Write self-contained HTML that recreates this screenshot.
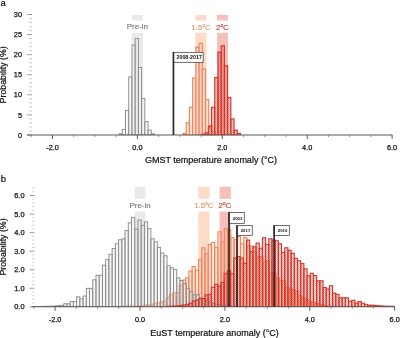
<!DOCTYPE html>
<html><head><meta charset="utf-8"><title>Figure</title>
<style>html,body{margin:0;padding:0;background:#fff;}svg{display:block}</style></head>
<body><svg width="400" height="338" viewBox="0 0 400 338" font-family='"Liberation Sans", sans-serif'><filter id="soft" x="0" y="0" width="100%" height="100%" filterUnits="userSpaceOnUse"><feGaussianBlur stdDeviation="0.35"/></filter><g filter="url(#soft)"><rect width="400" height="338" fill="#fff"/><defs><pattern id="hr" patternUnits="userSpaceOnUse" width="2" height="2"><rect width="1" height="1" fill="#d4352a" fill-opacity="0.32"/><rect x="1" y="1" width="1" height="1" fill="#d4352a" fill-opacity="0.32"/></pattern><pattern id="ho" patternUnits="userSpaceOnUse" width="2" height="2"><rect width="1" height="1" fill="#f0845c" fill-opacity="0.22"/><rect x="1" y="1" width="1" height="1" fill="#f0845c" fill-opacity="0.22"/></pattern><pattern id="hg" patternUnits="userSpaceOnUse" width="2" height="2"><rect width="1" height="1" fill="#808080" fill-opacity="0.13"/><rect x="1" y="1" width="1" height="1" fill="#808080" fill-opacity="0.13"/></pattern><clipPath id="ca"><rect x="0" y="0" width="400" height="135.3"/></clipPath><clipPath id="cb"><rect x="0" y="170" width="394.5" height="137.1"/></clipPath></defs>
<rect x="131.90" y="14.9" width="11" height="5.60" fill="#e9e9e9"/>
<rect x="131.90" y="32.8" width="11" height="102.20" fill="#e9e9e9"/>
<rect x="195.30" y="14.9" width="11.2" height="5.60" fill="#fcdcc8"/>
<rect x="195.30" y="32.8" width="11.2" height="102.20" fill="#fcdcc8"/>
<rect x="217.00" y="14.9" width="11" height="5.60" fill="#f7bfba"/>
<rect x="217.00" y="32.8" width="11" height="102.20" fill="#f7bfba"/>
<line x1="27.1" x2="32" y1="135.00" y2="135.00" stroke="#8f8f8f" stroke-width="0.9"/>
<line x1="29.2" x2="32" y1="130.98" y2="130.98" stroke="#bdbdbd" stroke-width="0.8"/>
<line x1="29.2" x2="32" y1="126.97" y2="126.97" stroke="#bdbdbd" stroke-width="0.8"/>
<line x1="29.2" x2="32" y1="122.95" y2="122.95" stroke="#bdbdbd" stroke-width="0.8"/>
<line x1="29.2" x2="32" y1="118.94" y2="118.94" stroke="#bdbdbd" stroke-width="0.8"/>
<line x1="27.1" x2="32" y1="114.92" y2="114.92" stroke="#8f8f8f" stroke-width="0.9"/>
<line x1="29.2" x2="32" y1="110.90" y2="110.90" stroke="#bdbdbd" stroke-width="0.8"/>
<line x1="29.2" x2="32" y1="106.89" y2="106.89" stroke="#bdbdbd" stroke-width="0.8"/>
<line x1="29.2" x2="32" y1="102.87" y2="102.87" stroke="#bdbdbd" stroke-width="0.8"/>
<line x1="29.2" x2="32" y1="98.86" y2="98.86" stroke="#bdbdbd" stroke-width="0.8"/>
<line x1="27.1" x2="32" y1="94.84" y2="94.84" stroke="#8f8f8f" stroke-width="0.9"/>
<line x1="29.2" x2="32" y1="90.82" y2="90.82" stroke="#bdbdbd" stroke-width="0.8"/>
<line x1="29.2" x2="32" y1="86.81" y2="86.81" stroke="#bdbdbd" stroke-width="0.8"/>
<line x1="29.2" x2="32" y1="82.79" y2="82.79" stroke="#bdbdbd" stroke-width="0.8"/>
<line x1="29.2" x2="32" y1="78.78" y2="78.78" stroke="#bdbdbd" stroke-width="0.8"/>
<line x1="27.1" x2="32" y1="74.76" y2="74.76" stroke="#8f8f8f" stroke-width="0.9"/>
<line x1="29.2" x2="32" y1="70.74" y2="70.74" stroke="#bdbdbd" stroke-width="0.8"/>
<line x1="29.2" x2="32" y1="66.73" y2="66.73" stroke="#bdbdbd" stroke-width="0.8"/>
<line x1="29.2" x2="32" y1="62.71" y2="62.71" stroke="#bdbdbd" stroke-width="0.8"/>
<line x1="29.2" x2="32" y1="58.70" y2="58.70" stroke="#bdbdbd" stroke-width="0.8"/>
<line x1="27.1" x2="32" y1="54.68" y2="54.68" stroke="#8f8f8f" stroke-width="0.9"/>
<line x1="29.2" x2="32" y1="50.66" y2="50.66" stroke="#bdbdbd" stroke-width="0.8"/>
<line x1="29.2" x2="32" y1="46.65" y2="46.65" stroke="#bdbdbd" stroke-width="0.8"/>
<line x1="29.2" x2="32" y1="42.63" y2="42.63" stroke="#bdbdbd" stroke-width="0.8"/>
<line x1="29.2" x2="32" y1="38.62" y2="38.62" stroke="#bdbdbd" stroke-width="0.8"/>
<line x1="27.1" x2="32" y1="34.60" y2="34.60" stroke="#8f8f8f" stroke-width="0.9"/>
<line x1="29.2" x2="32" y1="30.58" y2="30.58" stroke="#bdbdbd" stroke-width="0.8"/>
<line x1="29.2" x2="32" y1="26.57" y2="26.57" stroke="#bdbdbd" stroke-width="0.8"/>
<line x1="29.2" x2="32" y1="22.55" y2="22.55" stroke="#bdbdbd" stroke-width="0.8"/>
<line x1="29.2" x2="32" y1="18.54" y2="18.54" stroke="#bdbdbd" stroke-width="0.8"/>
<line x1="27.1" x2="32" y1="14.52" y2="14.52" stroke="#8f8f8f" stroke-width="0.9"/>
<g clip-path="url(#ca)" fill="rgba(255,255,255,0.5)" stroke="#8e8e8e" stroke-width="0.95"><rect x="119.08" y="133.80" width="3.22" height="1.20"/><rect x="122.30" y="129.38" width="3.22" height="5.62"/><rect x="125.52" y="110.50" width="3.22" height="24.50"/><rect x="128.74" y="76.97" width="3.22" height="58.03"/><rect x="131.96" y="45.04" width="3.22" height="89.96"/><rect x="135.18" y="38.62" width="3.22" height="96.38"/><rect x="138.40" y="67.53" width="3.22" height="67.47"/><rect x="141.62" y="98.45" width="3.22" height="36.55"/><rect x="144.84" y="121.51" width="3.22" height="13.49"/><rect x="148.06" y="130.02" width="3.22" height="4.98"/><rect x="151.28" y="133.80" width="3.22" height="1.20"/></g>
<g clip-path="url(#ca)" fill="url(#hg)" stroke="none"><rect x="119.08" y="133.80" width="3.22" height="1.20"/><rect x="122.30" y="129.38" width="3.22" height="5.62"/><rect x="125.52" y="110.50" width="3.22" height="24.50"/><rect x="128.74" y="76.97" width="3.22" height="58.03"/><rect x="131.96" y="45.04" width="3.22" height="89.96"/><rect x="135.18" y="38.62" width="3.22" height="96.38"/><rect x="138.40" y="67.53" width="3.22" height="67.47"/><rect x="141.62" y="98.45" width="3.22" height="36.55"/><rect x="144.84" y="121.51" width="3.22" height="13.49"/><rect x="148.06" y="130.02" width="3.22" height="4.98"/><rect x="151.28" y="133.80" width="3.22" height="1.20"/></g>
<g clip-path="url(#ca)" fill="rgba(255,232,218,0.7)" stroke="#f0845c" stroke-width="1.15"><rect x="182.98" y="133.39" width="3.22" height="1.61"/><rect x="186.20" y="122.75" width="3.22" height="12.25"/><rect x="189.42" y="107.29" width="3.22" height="27.71"/><rect x="192.64" y="77.97" width="3.22" height="57.03"/><rect x="195.86" y="47.25" width="3.22" height="87.75"/><rect x="199.08" y="43.44" width="3.22" height="91.56"/><rect x="202.30" y="69.14" width="3.22" height="65.86"/><rect x="205.52" y="99.66" width="3.22" height="35.34"/><rect x="208.74" y="125.36" width="3.22" height="9.64"/><rect x="211.96" y="131.51" width="3.22" height="3.49"/><rect x="215.18" y="134.20" width="3.22" height="0.80"/></g>
<g clip-path="url(#ca)" fill="url(#ho)" stroke="none"><rect x="182.98" y="133.39" width="3.22" height="1.61"/><rect x="186.20" y="122.75" width="3.22" height="12.25"/><rect x="189.42" y="107.29" width="3.22" height="27.71"/><rect x="192.64" y="77.97" width="3.22" height="57.03"/><rect x="195.86" y="47.25" width="3.22" height="87.75"/><rect x="199.08" y="43.44" width="3.22" height="91.56"/><rect x="202.30" y="69.14" width="3.22" height="65.86"/><rect x="205.52" y="99.66" width="3.22" height="35.34"/><rect x="208.74" y="125.36" width="3.22" height="9.64"/><rect x="211.96" y="131.51" width="3.22" height="3.49"/><rect x="215.18" y="134.20" width="3.22" height="0.80"/></g>
<g clip-path="url(#ca)" fill="rgba(240,140,125,0.35)" stroke="#d4352a" stroke-width="1.15"><rect x="201.86" y="134.20" width="3.22" height="0.80"/><rect x="205.08" y="132.79" width="3.22" height="2.21"/><rect x="208.30" y="126.57" width="3.22" height="8.43"/><rect x="211.52" y="107.29" width="3.22" height="27.71"/><rect x="214.74" y="77.57" width="3.22" height="57.43"/><rect x="217.96" y="52.27" width="3.22" height="82.73"/><rect x="221.18" y="45.84" width="3.22" height="89.16"/><rect x="224.40" y="65.92" width="3.22" height="69.08"/><rect x="227.62" y="97.65" width="3.22" height="37.35"/><rect x="230.84" y="118.94" width="3.22" height="16.06"/><rect x="234.06" y="130.18" width="3.22" height="4.82"/><rect x="237.28" y="133.39" width="3.22" height="1.61"/></g>
<g clip-path="url(#ca)" fill="url(#hr)" stroke="none"><rect x="201.86" y="134.20" width="3.22" height="0.80"/><rect x="205.08" y="132.79" width="3.22" height="2.21"/><rect x="208.30" y="126.57" width="3.22" height="8.43"/><rect x="211.52" y="107.29" width="3.22" height="27.71"/><rect x="214.74" y="77.57" width="3.22" height="57.43"/><rect x="217.96" y="52.27" width="3.22" height="82.73"/><rect x="221.18" y="45.84" width="3.22" height="89.16"/><rect x="224.40" y="65.92" width="3.22" height="69.08"/><rect x="227.62" y="97.65" width="3.22" height="37.35"/><rect x="230.84" y="118.94" width="3.22" height="16.06"/><rect x="234.06" y="130.18" width="3.22" height="4.82"/><rect x="237.28" y="133.39" width="3.22" height="1.61"/></g>
<line x1="27.1" x2="392.3" y1="135.0" y2="135.0" stroke="#5a5a5a" stroke-width="1.1"/>
<line x1="31.28" x2="31.28" y1="135.0" y2="137.0" stroke="#6a6a6a" stroke-width="0.7"/>
<line x1="52.50" x2="52.50" y1="135.0" y2="139.0" stroke="#4a4a4a" stroke-width="0.9"/>
<line x1="73.72" x2="73.72" y1="135.0" y2="137.0" stroke="#6a6a6a" stroke-width="0.7"/>
<line x1="94.95" x2="94.95" y1="135.0" y2="137.0" stroke="#6a6a6a" stroke-width="0.7"/>
<line x1="116.18" x2="116.18" y1="135.0" y2="137.0" stroke="#6a6a6a" stroke-width="0.7"/>
<line x1="137.40" x2="137.40" y1="135.0" y2="139.0" stroke="#4a4a4a" stroke-width="0.9"/>
<line x1="158.62" x2="158.62" y1="135.0" y2="137.0" stroke="#6a6a6a" stroke-width="0.7"/>
<line x1="179.85" x2="179.85" y1="135.0" y2="137.0" stroke="#6a6a6a" stroke-width="0.7"/>
<line x1="201.08" x2="201.08" y1="135.0" y2="137.0" stroke="#6a6a6a" stroke-width="0.7"/>
<line x1="222.30" x2="222.30" y1="135.0" y2="139.0" stroke="#4a4a4a" stroke-width="0.9"/>
<line x1="243.53" x2="243.53" y1="135.0" y2="137.0" stroke="#6a6a6a" stroke-width="0.7"/>
<line x1="264.75" x2="264.75" y1="135.0" y2="137.0" stroke="#6a6a6a" stroke-width="0.7"/>
<line x1="285.98" x2="285.98" y1="135.0" y2="137.0" stroke="#6a6a6a" stroke-width="0.7"/>
<line x1="307.20" x2="307.20" y1="135.0" y2="139.0" stroke="#4a4a4a" stroke-width="0.9"/>
<line x1="328.43" x2="328.43" y1="135.0" y2="137.0" stroke="#6a6a6a" stroke-width="0.7"/>
<line x1="349.65" x2="349.65" y1="135.0" y2="137.0" stroke="#6a6a6a" stroke-width="0.7"/>
<line x1="370.88" x2="370.88" y1="135.0" y2="137.0" stroke="#6a6a6a" stroke-width="0.7"/>
<line x1="392.10" x2="392.10" y1="135.0" y2="139.0" stroke="#4a4a4a" stroke-width="0.9"/>
<rect x="173.45" y="52.30" width="29.70" height="10.00" fill="#fff" stroke="#333" stroke-width="0.7"/>
<line x1="173.45" x2="173.45" y1="51.90" y2="135.00" stroke="#2a2a2a" stroke-width="1.7"/>
<rect x="134.70" y="186.7" width="10.8" height="12.10" fill="#e9e9e9"/>
<rect x="134.70" y="211.6" width="10.8" height="95.20" fill="#e9e9e9"/>
<rect x="198.30" y="186.7" width="11.2" height="12.10" fill="#fcdcc8"/>
<rect x="198.30" y="211.6" width="11.2" height="95.20" fill="#fcdcc8"/>
<rect x="219.60" y="186.7" width="11.2" height="12.10" fill="#f7bfba"/>
<rect x="219.60" y="211.6" width="11.2" height="95.20" fill="#f7bfba"/>
<line x1="29.7" x2="34.4" y1="306.80" y2="306.80" stroke="#8f8f8f" stroke-width="0.9"/>
<line x1="32.3" x2="34.4" y1="303.09" y2="303.09" stroke="#bdbdbd" stroke-width="0.8"/>
<line x1="32.3" x2="34.4" y1="299.38" y2="299.38" stroke="#bdbdbd" stroke-width="0.8"/>
<line x1="32.3" x2="34.4" y1="295.67" y2="295.67" stroke="#bdbdbd" stroke-width="0.8"/>
<line x1="32.3" x2="34.4" y1="291.96" y2="291.96" stroke="#bdbdbd" stroke-width="0.8"/>
<line x1="29.7" x2="34.4" y1="288.25" y2="288.25" stroke="#8f8f8f" stroke-width="0.9"/>
<line x1="32.3" x2="34.4" y1="284.54" y2="284.54" stroke="#bdbdbd" stroke-width="0.8"/>
<line x1="32.3" x2="34.4" y1="280.83" y2="280.83" stroke="#bdbdbd" stroke-width="0.8"/>
<line x1="32.3" x2="34.4" y1="277.12" y2="277.12" stroke="#bdbdbd" stroke-width="0.8"/>
<line x1="32.3" x2="34.4" y1="273.41" y2="273.41" stroke="#bdbdbd" stroke-width="0.8"/>
<line x1="29.7" x2="34.4" y1="269.70" y2="269.70" stroke="#8f8f8f" stroke-width="0.9"/>
<line x1="32.3" x2="34.4" y1="265.99" y2="265.99" stroke="#bdbdbd" stroke-width="0.8"/>
<line x1="32.3" x2="34.4" y1="262.28" y2="262.28" stroke="#bdbdbd" stroke-width="0.8"/>
<line x1="32.3" x2="34.4" y1="258.57" y2="258.57" stroke="#bdbdbd" stroke-width="0.8"/>
<line x1="32.3" x2="34.4" y1="254.86" y2="254.86" stroke="#bdbdbd" stroke-width="0.8"/>
<line x1="29.7" x2="34.4" y1="251.15" y2="251.15" stroke="#8f8f8f" stroke-width="0.9"/>
<line x1="32.3" x2="34.4" y1="247.44" y2="247.44" stroke="#bdbdbd" stroke-width="0.8"/>
<line x1="32.3" x2="34.4" y1="243.73" y2="243.73" stroke="#bdbdbd" stroke-width="0.8"/>
<line x1="32.3" x2="34.4" y1="240.02" y2="240.02" stroke="#bdbdbd" stroke-width="0.8"/>
<line x1="32.3" x2="34.4" y1="236.31" y2="236.31" stroke="#bdbdbd" stroke-width="0.8"/>
<line x1="29.7" x2="34.4" y1="232.60" y2="232.60" stroke="#8f8f8f" stroke-width="0.9"/>
<line x1="32.3" x2="34.4" y1="228.89" y2="228.89" stroke="#bdbdbd" stroke-width="0.8"/>
<line x1="32.3" x2="34.4" y1="225.18" y2="225.18" stroke="#bdbdbd" stroke-width="0.8"/>
<line x1="32.3" x2="34.4" y1="221.47" y2="221.47" stroke="#bdbdbd" stroke-width="0.8"/>
<line x1="32.3" x2="34.4" y1="217.76" y2="217.76" stroke="#bdbdbd" stroke-width="0.8"/>
<line x1="29.7" x2="34.4" y1="214.05" y2="214.05" stroke="#8f8f8f" stroke-width="0.9"/>
<line x1="32.3" x2="34.4" y1="210.34" y2="210.34" stroke="#bdbdbd" stroke-width="0.8"/>
<line x1="32.3" x2="34.4" y1="206.63" y2="206.63" stroke="#bdbdbd" stroke-width="0.8"/>
<line x1="32.3" x2="34.4" y1="202.92" y2="202.92" stroke="#bdbdbd" stroke-width="0.8"/>
<line x1="32.3" x2="34.4" y1="199.21" y2="199.21" stroke="#bdbdbd" stroke-width="0.8"/>
<line x1="29.7" x2="34.4" y1="195.50" y2="195.50" stroke="#8f8f8f" stroke-width="0.9"/>
<line x1="32.3" x2="34.4" y1="191.79" y2="191.79" stroke="#bdbdbd" stroke-width="0.8"/>
<line x1="32.3" x2="34.4" y1="188.08" y2="188.08" stroke="#bdbdbd" stroke-width="0.8"/>
<g clip-path="url(#cb)" fill="rgba(252,205,180,0.25)" stroke="#f0845c" stroke-width="1.1"><rect x="121.00" y="306.40" width="3.23" height="0.40"/><rect x="124.23" y="306.30" width="3.23" height="0.50"/><rect x="127.46" y="306.30" width="3.23" height="0.50"/><rect x="130.69" y="306.30" width="3.23" height="0.50"/><rect x="133.92" y="306.30" width="3.23" height="0.50"/><rect x="137.15" y="306.00" width="3.23" height="0.80"/><rect x="140.38" y="305.80" width="3.23" height="1.00"/><rect x="143.61" y="305.30" width="3.23" height="1.50"/><rect x="146.84" y="304.80" width="3.23" height="2.00"/><rect x="150.07" y="304.30" width="3.23" height="2.50"/><rect x="153.30" y="303.30" width="3.23" height="3.50"/><rect x="156.53" y="302.90" width="3.23" height="3.90"/><rect x="159.76" y="301.80" width="3.23" height="5.00"/><rect x="162.99" y="301.10" width="3.23" height="5.70"/><rect x="166.22" y="297.30" width="3.23" height="9.50"/><rect x="169.45" y="294.60" width="3.23" height="12.20"/><rect x="172.68" y="292.80" width="3.23" height="14.00"/><rect x="175.91" y="292.55" width="3.23" height="14.25"/><rect x="179.14" y="285.30" width="3.23" height="21.50"/><rect x="182.37" y="280.05" width="3.23" height="26.75"/><rect x="185.60" y="277.80" width="3.23" height="29.00"/><rect x="188.83" y="271.05" width="3.23" height="35.75"/><rect x="192.06" y="266.55" width="3.23" height="40.25"/><rect x="195.29" y="270.30" width="3.23" height="36.50"/><rect x="198.52" y="259.30" width="3.23" height="47.50"/><rect x="201.75" y="247.80" width="3.23" height="59.00"/><rect x="204.98" y="253.80" width="3.23" height="53.00"/><rect x="208.21" y="244.60" width="3.23" height="62.20"/><rect x="211.44" y="242.50" width="3.23" height="64.30"/><rect x="214.67" y="247.30" width="3.23" height="59.50"/><rect x="217.90" y="231.80" width="3.23" height="75.00"/><rect x="221.13" y="241.80" width="3.23" height="65.00"/><rect x="224.36" y="228.80" width="3.23" height="78.00"/><rect x="227.59" y="230.05" width="3.23" height="76.75"/><rect x="230.82" y="237.80" width="3.23" height="69.00"/><rect x="234.05" y="239.80" width="3.23" height="67.00"/><rect x="237.28" y="236.60" width="3.23" height="70.20"/><rect x="240.51" y="243.80" width="3.23" height="63.00"/><rect x="243.74" y="237.60" width="3.23" height="69.20"/><rect x="246.97" y="245.80" width="3.23" height="61.00"/><rect x="250.20" y="246.00" width="3.23" height="60.80"/><rect x="253.43" y="251.80" width="3.23" height="55.00"/><rect x="256.66" y="256.80" width="3.23" height="50.00"/><rect x="259.89" y="256.80" width="3.23" height="50.00"/><rect x="263.12" y="262.05" width="3.23" height="44.75"/><rect x="266.35" y="260.80" width="3.23" height="46.00"/><rect x="269.58" y="273.30" width="3.23" height="33.50"/><rect x="272.81" y="273.30" width="3.23" height="33.50"/><rect x="276.04" y="277.80" width="3.23" height="29.00"/><rect x="279.27" y="280.80" width="3.23" height="26.00"/><rect x="282.50" y="280.80" width="3.23" height="26.00"/><rect x="285.73" y="287.30" width="3.23" height="19.50"/><rect x="288.96" y="288.30" width="3.23" height="18.50"/><rect x="292.19" y="289.80" width="3.23" height="17.00"/><rect x="295.42" y="291.30" width="3.23" height="15.50"/><rect x="298.65" y="295.80" width="3.23" height="11.00"/><rect x="301.88" y="297.80" width="3.23" height="9.00"/><rect x="305.11" y="299.80" width="3.23" height="7.00"/><rect x="308.34" y="301.30" width="3.23" height="5.50"/><rect x="311.57" y="302.30" width="3.23" height="4.50"/><rect x="314.80" y="303.30" width="3.23" height="3.50"/><rect x="318.03" y="304.30" width="3.23" height="2.50"/><rect x="321.26" y="305.00" width="3.23" height="1.80"/><rect x="324.49" y="305.80" width="3.23" height="1.00"/><rect x="327.72" y="306.30" width="3.23" height="0.50"/><rect x="330.95" y="306.40" width="3.23" height="0.40"/></g>
<g clip-path="url(#cb)" fill="url(#ho)" stroke="none"><rect x="121.00" y="306.40" width="3.23" height="0.40"/><rect x="124.23" y="306.30" width="3.23" height="0.50"/><rect x="127.46" y="306.30" width="3.23" height="0.50"/><rect x="130.69" y="306.30" width="3.23" height="0.50"/><rect x="133.92" y="306.30" width="3.23" height="0.50"/><rect x="137.15" y="306.00" width="3.23" height="0.80"/><rect x="140.38" y="305.80" width="3.23" height="1.00"/><rect x="143.61" y="305.30" width="3.23" height="1.50"/><rect x="146.84" y="304.80" width="3.23" height="2.00"/><rect x="150.07" y="304.30" width="3.23" height="2.50"/><rect x="153.30" y="303.30" width="3.23" height="3.50"/><rect x="156.53" y="302.90" width="3.23" height="3.90"/><rect x="159.76" y="301.80" width="3.23" height="5.00"/><rect x="162.99" y="301.10" width="3.23" height="5.70"/><rect x="166.22" y="297.30" width="3.23" height="9.50"/><rect x="169.45" y="294.60" width="3.23" height="12.20"/><rect x="172.68" y="292.80" width="3.23" height="14.00"/><rect x="175.91" y="292.55" width="3.23" height="14.25"/><rect x="179.14" y="285.30" width="3.23" height="21.50"/><rect x="182.37" y="280.05" width="3.23" height="26.75"/><rect x="185.60" y="277.80" width="3.23" height="29.00"/><rect x="188.83" y="271.05" width="3.23" height="35.75"/><rect x="192.06" y="266.55" width="3.23" height="40.25"/><rect x="195.29" y="270.30" width="3.23" height="36.50"/><rect x="198.52" y="259.30" width="3.23" height="47.50"/><rect x="201.75" y="247.80" width="3.23" height="59.00"/><rect x="204.98" y="253.80" width="3.23" height="53.00"/><rect x="208.21" y="244.60" width="3.23" height="62.20"/><rect x="211.44" y="242.50" width="3.23" height="64.30"/><rect x="214.67" y="247.30" width="3.23" height="59.50"/><rect x="217.90" y="231.80" width="3.23" height="75.00"/><rect x="221.13" y="241.80" width="3.23" height="65.00"/><rect x="224.36" y="228.80" width="3.23" height="78.00"/><rect x="227.59" y="230.05" width="3.23" height="76.75"/><rect x="230.82" y="237.80" width="3.23" height="69.00"/><rect x="234.05" y="239.80" width="3.23" height="67.00"/><rect x="237.28" y="236.60" width="3.23" height="70.20"/><rect x="240.51" y="243.80" width="3.23" height="63.00"/><rect x="243.74" y="237.60" width="3.23" height="69.20"/><rect x="246.97" y="245.80" width="3.23" height="61.00"/><rect x="250.20" y="246.00" width="3.23" height="60.80"/><rect x="253.43" y="251.80" width="3.23" height="55.00"/><rect x="256.66" y="256.80" width="3.23" height="50.00"/><rect x="259.89" y="256.80" width="3.23" height="50.00"/><rect x="263.12" y="262.05" width="3.23" height="44.75"/><rect x="266.35" y="260.80" width="3.23" height="46.00"/><rect x="269.58" y="273.30" width="3.23" height="33.50"/><rect x="272.81" y="273.30" width="3.23" height="33.50"/><rect x="276.04" y="277.80" width="3.23" height="29.00"/><rect x="279.27" y="280.80" width="3.23" height="26.00"/><rect x="282.50" y="280.80" width="3.23" height="26.00"/><rect x="285.73" y="287.30" width="3.23" height="19.50"/><rect x="288.96" y="288.30" width="3.23" height="18.50"/><rect x="292.19" y="289.80" width="3.23" height="17.00"/><rect x="295.42" y="291.30" width="3.23" height="15.50"/><rect x="298.65" y="295.80" width="3.23" height="11.00"/><rect x="301.88" y="297.80" width="3.23" height="9.00"/><rect x="305.11" y="299.80" width="3.23" height="7.00"/><rect x="308.34" y="301.30" width="3.23" height="5.50"/><rect x="311.57" y="302.30" width="3.23" height="4.50"/><rect x="314.80" y="303.30" width="3.23" height="3.50"/><rect x="318.03" y="304.30" width="3.23" height="2.50"/><rect x="321.26" y="305.00" width="3.23" height="1.80"/><rect x="324.49" y="305.80" width="3.23" height="1.00"/><rect x="327.72" y="306.30" width="3.23" height="0.50"/><rect x="330.95" y="306.40" width="3.23" height="0.40"/></g>
<g clip-path="url(#cb)" fill="rgba(255,255,255,0.3)" stroke="#8e8e8e" stroke-width="0.95"><rect x="34.62" y="306.50" width="3.23" height="0.30"/><rect x="37.85" y="306.50" width="3.23" height="0.30"/><rect x="41.08" y="306.40" width="3.23" height="0.40"/><rect x="44.31" y="306.30" width="3.23" height="0.50"/><rect x="47.54" y="306.30" width="3.23" height="0.50"/><rect x="50.77" y="306.20" width="3.23" height="0.60"/><rect x="54.00" y="306.05" width="3.23" height="0.75"/><rect x="57.23" y="305.60" width="3.23" height="1.20"/><rect x="60.46" y="305.30" width="3.23" height="1.50"/><rect x="63.69" y="303.80" width="3.23" height="3.00"/><rect x="66.92" y="303.80" width="3.23" height="3.00"/><rect x="70.15" y="301.55" width="3.23" height="5.25"/><rect x="73.38" y="301.55" width="3.23" height="5.25"/><rect x="76.61" y="296.80" width="3.23" height="10.00"/><rect x="79.84" y="298.80" width="3.23" height="8.00"/><rect x="83.07" y="296.00" width="3.23" height="10.80"/><rect x="86.30" y="288.35" width="3.23" height="18.45"/><rect x="89.53" y="288.35" width="3.23" height="18.45"/><rect x="92.76" y="279.80" width="3.23" height="27.00"/><rect x="95.99" y="275.30" width="3.23" height="31.50"/><rect x="99.22" y="275.30" width="3.23" height="31.50"/><rect x="102.45" y="265.25" width="3.23" height="41.55"/><rect x="105.68" y="259.55" width="3.23" height="47.25"/><rect x="108.91" y="254.30" width="3.23" height="52.50"/><rect x="112.14" y="248.55" width="3.23" height="58.25"/><rect x="115.37" y="243.80" width="3.23" height="63.00"/><rect x="118.60" y="239.80" width="3.23" height="67.00"/><rect x="121.83" y="238.80" width="3.23" height="68.00"/><rect x="125.06" y="230.55" width="3.23" height="76.25"/><rect x="128.29" y="222.80" width="3.23" height="84.00"/><rect x="131.52" y="217.30" width="3.23" height="89.50"/><rect x="134.75" y="229.05" width="3.23" height="77.75"/><rect x="137.98" y="220.05" width="3.23" height="86.75"/><rect x="141.21" y="225.30" width="3.23" height="81.50"/><rect x="144.44" y="221.80" width="3.23" height="85.00"/><rect x="147.67" y="228.60" width="3.23" height="78.20"/><rect x="150.90" y="238.80" width="3.23" height="68.00"/><rect x="154.13" y="241.80" width="3.23" height="65.00"/><rect x="157.36" y="247.50" width="3.23" height="59.30"/><rect x="160.59" y="253.05" width="3.23" height="53.75"/><rect x="163.82" y="255.80" width="3.23" height="51.00"/><rect x="167.05" y="265.80" width="3.23" height="41.00"/><rect x="170.28" y="267.80" width="3.23" height="39.00"/><rect x="173.51" y="269.55" width="3.23" height="37.25"/><rect x="176.74" y="277.80" width="3.23" height="29.00"/><rect x="179.97" y="280.50" width="3.23" height="26.30"/><rect x="183.20" y="283.80" width="3.23" height="23.00"/><rect x="186.43" y="288.80" width="3.23" height="18.00"/><rect x="189.66" y="291.80" width="3.23" height="15.00"/><rect x="192.89" y="295.05" width="3.23" height="11.75"/><rect x="196.12" y="294.30" width="3.23" height="12.50"/><rect x="199.35" y="297.80" width="3.23" height="9.00"/><rect x="202.58" y="298.40" width="3.23" height="8.40"/><rect x="205.81" y="300.30" width="3.23" height="6.50"/><rect x="209.04" y="302.60" width="3.23" height="4.20"/><rect x="212.27" y="303.30" width="3.23" height="3.50"/><rect x="215.50" y="304.30" width="3.23" height="2.50"/><rect x="218.73" y="304.80" width="3.23" height="2.00"/><rect x="221.96" y="305.30" width="3.23" height="1.50"/><rect x="225.19" y="305.80" width="3.23" height="1.00"/><rect x="228.42" y="306.00" width="3.23" height="0.80"/><rect x="231.65" y="306.30" width="3.23" height="0.50"/><rect x="234.88" y="306.40" width="3.23" height="0.40"/><rect x="238.11" y="306.50" width="3.23" height="0.30"/></g>
<g clip-path="url(#cb)" fill="url(#hg)" stroke="none"><rect x="34.62" y="306.50" width="3.23" height="0.30"/><rect x="37.85" y="306.50" width="3.23" height="0.30"/><rect x="41.08" y="306.40" width="3.23" height="0.40"/><rect x="44.31" y="306.30" width="3.23" height="0.50"/><rect x="47.54" y="306.30" width="3.23" height="0.50"/><rect x="50.77" y="306.20" width="3.23" height="0.60"/><rect x="54.00" y="306.05" width="3.23" height="0.75"/><rect x="57.23" y="305.60" width="3.23" height="1.20"/><rect x="60.46" y="305.30" width="3.23" height="1.50"/><rect x="63.69" y="303.80" width="3.23" height="3.00"/><rect x="66.92" y="303.80" width="3.23" height="3.00"/><rect x="70.15" y="301.55" width="3.23" height="5.25"/><rect x="73.38" y="301.55" width="3.23" height="5.25"/><rect x="76.61" y="296.80" width="3.23" height="10.00"/><rect x="79.84" y="298.80" width="3.23" height="8.00"/><rect x="83.07" y="296.00" width="3.23" height="10.80"/><rect x="86.30" y="288.35" width="3.23" height="18.45"/><rect x="89.53" y="288.35" width="3.23" height="18.45"/><rect x="92.76" y="279.80" width="3.23" height="27.00"/><rect x="95.99" y="275.30" width="3.23" height="31.50"/><rect x="99.22" y="275.30" width="3.23" height="31.50"/><rect x="102.45" y="265.25" width="3.23" height="41.55"/><rect x="105.68" y="259.55" width="3.23" height="47.25"/><rect x="108.91" y="254.30" width="3.23" height="52.50"/><rect x="112.14" y="248.55" width="3.23" height="58.25"/><rect x="115.37" y="243.80" width="3.23" height="63.00"/><rect x="118.60" y="239.80" width="3.23" height="67.00"/><rect x="121.83" y="238.80" width="3.23" height="68.00"/><rect x="125.06" y="230.55" width="3.23" height="76.25"/><rect x="128.29" y="222.80" width="3.23" height="84.00"/><rect x="131.52" y="217.30" width="3.23" height="89.50"/><rect x="134.75" y="229.05" width="3.23" height="77.75"/><rect x="137.98" y="220.05" width="3.23" height="86.75"/><rect x="141.21" y="225.30" width="3.23" height="81.50"/><rect x="144.44" y="221.80" width="3.23" height="85.00"/><rect x="147.67" y="228.60" width="3.23" height="78.20"/><rect x="150.90" y="238.80" width="3.23" height="68.00"/><rect x="154.13" y="241.80" width="3.23" height="65.00"/><rect x="157.36" y="247.50" width="3.23" height="59.30"/><rect x="160.59" y="253.05" width="3.23" height="53.75"/><rect x="163.82" y="255.80" width="3.23" height="51.00"/><rect x="167.05" y="265.80" width="3.23" height="41.00"/><rect x="170.28" y="267.80" width="3.23" height="39.00"/><rect x="173.51" y="269.55" width="3.23" height="37.25"/><rect x="176.74" y="277.80" width="3.23" height="29.00"/><rect x="179.97" y="280.50" width="3.23" height="26.30"/><rect x="183.20" y="283.80" width="3.23" height="23.00"/><rect x="186.43" y="288.80" width="3.23" height="18.00"/><rect x="189.66" y="291.80" width="3.23" height="15.00"/><rect x="192.89" y="295.05" width="3.23" height="11.75"/><rect x="196.12" y="294.30" width="3.23" height="12.50"/><rect x="199.35" y="297.80" width="3.23" height="9.00"/><rect x="202.58" y="298.40" width="3.23" height="8.40"/><rect x="205.81" y="300.30" width="3.23" height="6.50"/><rect x="209.04" y="302.60" width="3.23" height="4.20"/><rect x="212.27" y="303.30" width="3.23" height="3.50"/><rect x="215.50" y="304.30" width="3.23" height="2.50"/><rect x="218.73" y="304.80" width="3.23" height="2.00"/><rect x="221.96" y="305.30" width="3.23" height="1.50"/><rect x="225.19" y="305.80" width="3.23" height="1.00"/><rect x="228.42" y="306.00" width="3.23" height="0.80"/><rect x="231.65" y="306.30" width="3.23" height="0.50"/><rect x="234.88" y="306.40" width="3.23" height="0.40"/><rect x="238.11" y="306.50" width="3.23" height="0.30"/></g>
<g clip-path="url(#cb)" fill="rgba(235,120,110,0.2)" stroke="#d4352a" stroke-width="1.1"><rect x="166.72" y="306.30" width="3.19" height="0.50"/><rect x="169.91" y="306.20" width="3.19" height="0.60"/><rect x="173.10" y="306.00" width="3.19" height="0.80"/><rect x="176.29" y="305.80" width="3.19" height="1.00"/><rect x="179.48" y="305.50" width="3.19" height="1.30"/><rect x="182.67" y="305.00" width="3.19" height="1.80"/><rect x="185.86" y="304.40" width="3.19" height="2.40"/><rect x="189.05" y="303.30" width="3.19" height="3.50"/><rect x="192.24" y="301.10" width="3.19" height="5.70"/><rect x="195.43" y="300.05" width="3.19" height="6.75"/><rect x="198.62" y="298.80" width="3.19" height="8.00"/><rect x="201.81" y="298.55" width="3.19" height="8.25"/><rect x="205.00" y="294.80" width="3.19" height="12.00"/><rect x="208.19" y="294.35" width="3.19" height="12.45"/><rect x="211.38" y="287.30" width="3.19" height="19.50"/><rect x="214.57" y="284.30" width="3.19" height="22.50"/><rect x="217.76" y="286.10" width="3.19" height="20.70"/><rect x="220.95" y="282.35" width="3.19" height="24.45"/><rect x="224.14" y="273.35" width="3.19" height="33.45"/><rect x="227.33" y="270.80" width="3.19" height="36.00"/><rect x="230.52" y="273.80" width="3.19" height="33.00"/><rect x="233.71" y="258.05" width="3.19" height="48.75"/><rect x="236.90" y="256.55" width="3.19" height="50.25"/><rect x="240.09" y="258.05" width="3.19" height="48.75"/><rect x="243.28" y="263.30" width="3.19" height="43.50"/><rect x="246.47" y="240.10" width="3.19" height="66.70"/><rect x="249.66" y="251.80" width="3.19" height="55.00"/><rect x="252.85" y="246.80" width="3.19" height="60.00"/><rect x="256.04" y="243.05" width="3.19" height="63.75"/><rect x="259.23" y="248.30" width="3.19" height="58.50"/><rect x="262.42" y="237.80" width="3.19" height="69.00"/><rect x="265.61" y="244.30" width="3.19" height="62.50"/><rect x="268.80" y="238.80" width="3.19" height="68.00"/><rect x="271.99" y="240.05" width="3.19" height="66.75"/><rect x="275.18" y="240.80" width="3.19" height="66.00"/><rect x="278.37" y="243.80" width="3.19" height="63.00"/><rect x="281.56" y="252.50" width="3.19" height="54.30"/><rect x="284.75" y="247.80" width="3.19" height="59.00"/><rect x="287.94" y="250.30" width="3.19" height="56.50"/><rect x="291.13" y="253.30" width="3.19" height="53.50"/><rect x="294.32" y="258.35" width="3.19" height="48.45"/><rect x="297.51" y="260.80" width="3.19" height="46.00"/><rect x="300.70" y="263.55" width="3.19" height="43.25"/><rect x="303.89" y="268.80" width="3.19" height="38.00"/><rect x="307.08" y="275.80" width="3.19" height="31.00"/><rect x="310.27" y="273.30" width="3.19" height="33.50"/><rect x="313.46" y="275.55" width="3.19" height="31.25"/><rect x="316.65" y="280.80" width="3.19" height="26.00"/><rect x="319.84" y="280.80" width="3.19" height="26.00"/><rect x="323.03" y="287.55" width="3.19" height="19.25"/><rect x="326.22" y="289.05" width="3.19" height="17.75"/><rect x="329.41" y="285.80" width="3.19" height="21.00"/><rect x="332.60" y="293.10" width="3.19" height="13.70"/><rect x="335.79" y="294.30" width="3.19" height="12.50"/><rect x="338.98" y="297.80" width="3.19" height="9.00"/><rect x="342.17" y="297.80" width="3.19" height="9.00"/><rect x="345.36" y="297.80" width="3.19" height="9.00"/><rect x="348.55" y="301.40" width="3.19" height="5.40"/><rect x="351.74" y="300.30" width="3.19" height="6.50"/><rect x="354.93" y="303.00" width="3.19" height="3.80"/><rect x="358.12" y="301.60" width="3.19" height="5.20"/><rect x="361.31" y="303.20" width="3.19" height="3.60"/><rect x="364.50" y="304.40" width="3.19" height="2.40"/><rect x="367.69" y="305.20" width="3.19" height="1.60"/><rect x="370.88" y="305.20" width="3.19" height="1.60"/><rect x="374.07" y="305.50" width="3.19" height="1.30"/><rect x="377.26" y="305.80" width="3.19" height="1.00"/><rect x="380.45" y="306.00" width="3.19" height="0.80"/><rect x="383.64" y="306.20" width="3.19" height="0.60"/><rect x="386.83" y="306.30" width="3.19" height="0.50"/><rect x="390.02" y="306.30" width="3.19" height="0.50"/><rect x="393.21" y="306.40" width="3.19" height="0.40"/></g>
<g clip-path="url(#cb)" fill="url(#hr)" stroke="none"><rect x="166.72" y="306.30" width="3.19" height="0.50"/><rect x="169.91" y="306.20" width="3.19" height="0.60"/><rect x="173.10" y="306.00" width="3.19" height="0.80"/><rect x="176.29" y="305.80" width="3.19" height="1.00"/><rect x="179.48" y="305.50" width="3.19" height="1.30"/><rect x="182.67" y="305.00" width="3.19" height="1.80"/><rect x="185.86" y="304.40" width="3.19" height="2.40"/><rect x="189.05" y="303.30" width="3.19" height="3.50"/><rect x="192.24" y="301.10" width="3.19" height="5.70"/><rect x="195.43" y="300.05" width="3.19" height="6.75"/><rect x="198.62" y="298.80" width="3.19" height="8.00"/><rect x="201.81" y="298.55" width="3.19" height="8.25"/><rect x="205.00" y="294.80" width="3.19" height="12.00"/><rect x="208.19" y="294.35" width="3.19" height="12.45"/><rect x="211.38" y="287.30" width="3.19" height="19.50"/><rect x="214.57" y="284.30" width="3.19" height="22.50"/><rect x="217.76" y="286.10" width="3.19" height="20.70"/><rect x="220.95" y="282.35" width="3.19" height="24.45"/><rect x="224.14" y="273.35" width="3.19" height="33.45"/><rect x="227.33" y="270.80" width="3.19" height="36.00"/><rect x="230.52" y="273.80" width="3.19" height="33.00"/><rect x="233.71" y="258.05" width="3.19" height="48.75"/><rect x="236.90" y="256.55" width="3.19" height="50.25"/><rect x="240.09" y="258.05" width="3.19" height="48.75"/><rect x="243.28" y="263.30" width="3.19" height="43.50"/><rect x="246.47" y="240.10" width="3.19" height="66.70"/><rect x="249.66" y="251.80" width="3.19" height="55.00"/><rect x="252.85" y="246.80" width="3.19" height="60.00"/><rect x="256.04" y="243.05" width="3.19" height="63.75"/><rect x="259.23" y="248.30" width="3.19" height="58.50"/><rect x="262.42" y="237.80" width="3.19" height="69.00"/><rect x="265.61" y="244.30" width="3.19" height="62.50"/><rect x="268.80" y="238.80" width="3.19" height="68.00"/><rect x="271.99" y="240.05" width="3.19" height="66.75"/><rect x="275.18" y="240.80" width="3.19" height="66.00"/><rect x="278.37" y="243.80" width="3.19" height="63.00"/><rect x="281.56" y="252.50" width="3.19" height="54.30"/><rect x="284.75" y="247.80" width="3.19" height="59.00"/><rect x="287.94" y="250.30" width="3.19" height="56.50"/><rect x="291.13" y="253.30" width="3.19" height="53.50"/><rect x="294.32" y="258.35" width="3.19" height="48.45"/><rect x="297.51" y="260.80" width="3.19" height="46.00"/><rect x="300.70" y="263.55" width="3.19" height="43.25"/><rect x="303.89" y="268.80" width="3.19" height="38.00"/><rect x="307.08" y="275.80" width="3.19" height="31.00"/><rect x="310.27" y="273.30" width="3.19" height="33.50"/><rect x="313.46" y="275.55" width="3.19" height="31.25"/><rect x="316.65" y="280.80" width="3.19" height="26.00"/><rect x="319.84" y="280.80" width="3.19" height="26.00"/><rect x="323.03" y="287.55" width="3.19" height="19.25"/><rect x="326.22" y="289.05" width="3.19" height="17.75"/><rect x="329.41" y="285.80" width="3.19" height="21.00"/><rect x="332.60" y="293.10" width="3.19" height="13.70"/><rect x="335.79" y="294.30" width="3.19" height="12.50"/><rect x="338.98" y="297.80" width="3.19" height="9.00"/><rect x="342.17" y="297.80" width="3.19" height="9.00"/><rect x="345.36" y="297.80" width="3.19" height="9.00"/><rect x="348.55" y="301.40" width="3.19" height="5.40"/><rect x="351.74" y="300.30" width="3.19" height="6.50"/><rect x="354.93" y="303.00" width="3.19" height="3.80"/><rect x="358.12" y="301.60" width="3.19" height="5.20"/><rect x="361.31" y="303.20" width="3.19" height="3.60"/><rect x="364.50" y="304.40" width="3.19" height="2.40"/><rect x="367.69" y="305.20" width="3.19" height="1.60"/><rect x="370.88" y="305.20" width="3.19" height="1.60"/><rect x="374.07" y="305.50" width="3.19" height="1.30"/><rect x="377.26" y="305.80" width="3.19" height="1.00"/><rect x="380.45" y="306.00" width="3.19" height="0.80"/><rect x="383.64" y="306.20" width="3.19" height="0.60"/><rect x="386.83" y="306.30" width="3.19" height="0.50"/><rect x="390.02" y="306.30" width="3.19" height="0.50"/><rect x="393.21" y="306.40" width="3.19" height="0.40"/></g>
<line x1="31.8" x2="394.9" y1="306.8" y2="306.8" stroke="#5a5a5a" stroke-width="1.1"/>
<line x1="33.88" x2="33.88" y1="306.8" y2="308.8" stroke="#6a6a6a" stroke-width="0.7"/>
<line x1="55.10" x2="55.10" y1="306.8" y2="310.8" stroke="#4a4a4a" stroke-width="0.9"/>
<line x1="76.32" x2="76.32" y1="306.8" y2="308.8" stroke="#6a6a6a" stroke-width="0.7"/>
<line x1="97.55" x2="97.55" y1="306.8" y2="308.8" stroke="#6a6a6a" stroke-width="0.7"/>
<line x1="118.78" x2="118.78" y1="306.8" y2="308.8" stroke="#6a6a6a" stroke-width="0.7"/>
<line x1="140.00" x2="140.00" y1="306.8" y2="310.8" stroke="#4a4a4a" stroke-width="0.9"/>
<line x1="161.22" x2="161.22" y1="306.8" y2="308.8" stroke="#6a6a6a" stroke-width="0.7"/>
<line x1="182.45" x2="182.45" y1="306.8" y2="308.8" stroke="#6a6a6a" stroke-width="0.7"/>
<line x1="203.68" x2="203.68" y1="306.8" y2="308.8" stroke="#6a6a6a" stroke-width="0.7"/>
<line x1="224.90" x2="224.90" y1="306.8" y2="310.8" stroke="#4a4a4a" stroke-width="0.9"/>
<line x1="246.12" x2="246.12" y1="306.8" y2="308.8" stroke="#6a6a6a" stroke-width="0.7"/>
<line x1="267.35" x2="267.35" y1="306.8" y2="308.8" stroke="#6a6a6a" stroke-width="0.7"/>
<line x1="288.58" x2="288.58" y1="306.8" y2="308.8" stroke="#6a6a6a" stroke-width="0.7"/>
<line x1="309.80" x2="309.80" y1="306.8" y2="310.8" stroke="#4a4a4a" stroke-width="0.9"/>
<line x1="331.02" x2="331.02" y1="306.8" y2="308.8" stroke="#6a6a6a" stroke-width="0.7"/>
<line x1="352.25" x2="352.25" y1="306.8" y2="308.8" stroke="#6a6a6a" stroke-width="0.7"/>
<line x1="373.48" x2="373.48" y1="306.8" y2="308.8" stroke="#6a6a6a" stroke-width="0.7"/>
<line x1="394.70" x2="394.70" y1="306.8" y2="310.8" stroke="#4a4a4a" stroke-width="0.9"/>
<rect x="229.00" y="212.60" width="15.30" height="10.80" fill="#fff" stroke="#333" stroke-width="0.7"/>
<line x1="229.00" x2="229.00" y1="212.20" y2="306.80" stroke="#2a2a2a" stroke-width="1.7"/>
<rect x="237.00" y="225.60" width="15.20" height="10.00" fill="#fff" stroke="#333" stroke-width="0.7"/>
<line x1="237.00" x2="237.00" y1="225.20" y2="306.80" stroke="#2a2a2a" stroke-width="1.7"/>
<rect x="274.10" y="225.60" width="15.20" height="10.00" fill="#fff" stroke="#333" stroke-width="0.7"/>
<line x1="274.10" x2="274.10" y1="225.20" y2="306.80" stroke="#2a2a2a" stroke-width="1.7"/></g><g><text x="0.5" y="5.7" font-size="9.5" fill="#111" stroke="#111" stroke-width="0.2">a</text>
<text x="137.4" y="29.3" font-size="8" fill="#707070" stroke="#707070" stroke-width="0.1" text-anchor="middle">Pre-in</text>
<text x="201" y="29.5" font-size="8" fill="#f08a5c" stroke="#f08a5c" stroke-width="0.08" text-anchor="middle">1.5<tspan font-size="4.6" dy="-3" stroke-width="0.12">o</tspan><tspan dy="3">C</tspan></text>
<text x="222.4" y="29.5" font-size="8" fill="#c8342a" stroke="#c8342a" stroke-width="0.1" text-anchor="middle">2<tspan font-size="4.6" dy="-3" stroke-width="0.12">o</tspan><tspan dy="3">C</tspan></text>
<text x="22" y="137.60" font-size="7.4" fill="#111" stroke="#111" stroke-width="0.25" text-anchor="end">0</text>
<text x="22" y="117.52" font-size="7.4" fill="#111" stroke="#111" stroke-width="0.25" text-anchor="end">5</text>
<text x="22" y="97.44" font-size="7.4" fill="#111" stroke="#111" stroke-width="0.25" text-anchor="end">10</text>
<text x="22" y="77.36" font-size="7.4" fill="#111" stroke="#111" stroke-width="0.25" text-anchor="end">15</text>
<text x="22" y="57.28" font-size="7.4" fill="#111" stroke="#111" stroke-width="0.25" text-anchor="end">20</text>
<text x="22" y="37.20" font-size="7.4" fill="#111" stroke="#111" stroke-width="0.25" text-anchor="end">25</text>
<text x="22" y="17.12" font-size="7.4" fill="#111" stroke="#111" stroke-width="0.25" text-anchor="end">30</text>
<text x="52.50" y="150" font-size="7.3" fill="#111" stroke="#111" stroke-width="0.25" text-anchor="middle">-2.0</text>
<text x="137.40" y="150" font-size="7.3" fill="#111" stroke="#111" stroke-width="0.25" text-anchor="middle">0.0</text>
<text x="222.30" y="150" font-size="7.3" fill="#111" stroke="#111" stroke-width="0.25" text-anchor="middle">2.0</text>
<text x="307.20" y="150" font-size="7.3" fill="#111" stroke="#111" stroke-width="0.25" text-anchor="middle">4.0</text>
<text x="392.10" y="150" font-size="7.3" fill="#111" stroke="#111" stroke-width="0.25" text-anchor="middle">6.0</text>
<text x="211" y="162.5" font-size="9" fill="#111" stroke="#111" stroke-width="0.2" text-anchor="middle">GMST temperature anomaly (°C)</text>
<text transform="translate(6,74.8) rotate(-90)" font-size="8.8" fill="#111" stroke="#111" stroke-width="0.2" text-anchor="middle">Probability (%)</text>
<text x="189.20" y="59.21" font-size="5.3" font-weight="bold" fill="#111" text-anchor="middle">2008-2017</text>
<text x="0.7" y="181.6" font-size="9.5" fill="#111" stroke="#111" stroke-width="0.2">b</text>
<text x="140.1" y="208.0" font-size="8" fill="#707070" stroke="#707070" stroke-width="0.1" text-anchor="middle">Pre-in</text>
<text x="203.9" y="208.2" font-size="8" fill="#f08a5c" stroke="#f08a5c" stroke-width="0.08" text-anchor="middle">1.5<tspan font-size="4.6" dy="-3" stroke-width="0.12">o</tspan><tspan dy="3">C</tspan></text>
<text x="225" y="208.2" font-size="8" fill="#c8342a" stroke="#c8342a" stroke-width="0.1" text-anchor="middle">2<tspan font-size="4.6" dy="-3" stroke-width="0.12">o</tspan><tspan dy="3">C</tspan></text>
<text x="24.5" y="309.40" font-size="7.4" fill="#111" stroke="#111" stroke-width="0.25" text-anchor="end">0.0</text>
<text x="24.5" y="290.85" font-size="7.4" fill="#111" stroke="#111" stroke-width="0.25" text-anchor="end">1.0</text>
<text x="24.5" y="272.30" font-size="7.4" fill="#111" stroke="#111" stroke-width="0.25" text-anchor="end">2.0</text>
<text x="24.5" y="253.75" font-size="7.4" fill="#111" stroke="#111" stroke-width="0.25" text-anchor="end">3.0</text>
<text x="24.5" y="235.20" font-size="7.4" fill="#111" stroke="#111" stroke-width="0.25" text-anchor="end">4.0</text>
<text x="24.5" y="216.65" font-size="7.4" fill="#111" stroke="#111" stroke-width="0.25" text-anchor="end">5.0</text>
<text x="24.5" y="198.10" font-size="7.4" fill="#111" stroke="#111" stroke-width="0.25" text-anchor="end">6.0</text>
<text x="55.10" y="322" font-size="7.3" fill="#111" stroke="#111" stroke-width="0.25" text-anchor="middle">-2.0</text>
<text x="140.00" y="322" font-size="7.3" fill="#111" stroke="#111" stroke-width="0.25" text-anchor="middle">0.0</text>
<text x="224.90" y="322" font-size="7.3" fill="#111" stroke="#111" stroke-width="0.25" text-anchor="middle">2.0</text>
<text x="309.80" y="322" font-size="7.3" fill="#111" stroke="#111" stroke-width="0.25" text-anchor="middle">4.0</text>
<text x="394.70" y="322" font-size="7.3" fill="#111" stroke="#111" stroke-width="0.25" text-anchor="middle">6.0</text>
<text x="214.6" y="335.6" font-size="9" fill="#111" stroke="#111" stroke-width="0.2" text-anchor="middle">EuST temperature anomaly (°C)</text>
<text transform="translate(6,247) rotate(-90)" font-size="8.8" fill="#111" stroke="#111" stroke-width="0.2" text-anchor="middle">Probability (%)</text>
<text x="237.55" y="219.55" font-size="4.3" font-weight="bold" fill="#111" text-anchor="middle">2003</text>
<text x="245.50" y="232.15" font-size="4.3" font-weight="bold" fill="#111" text-anchor="middle">2017</text>
<text x="282.60" y="232.15" font-size="4.3" font-weight="bold" fill="#111" text-anchor="middle">2010</text></g></svg></body></html>
